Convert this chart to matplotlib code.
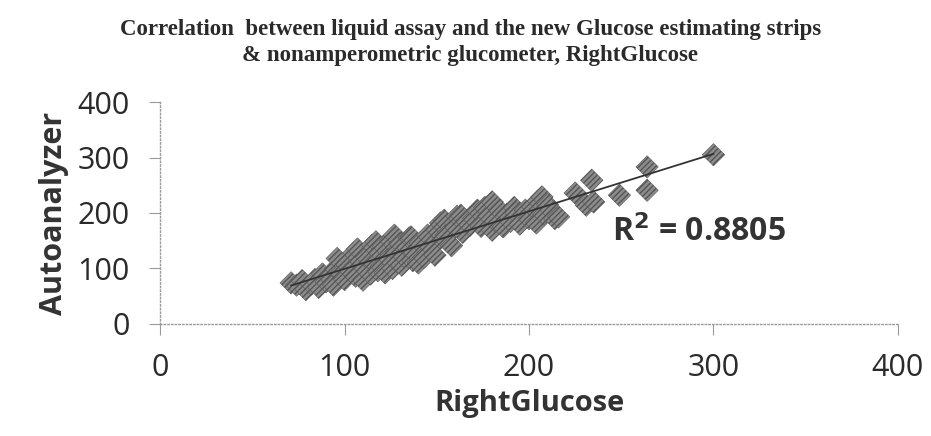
import matplotlib
matplotlib.use("Agg")
import matplotlib.pyplot as plt
import numpy as np

title = "Correlation  between liquid assay and the new Glucose estimating strips\n& nonamperometric glucometer, RightGlucose"
x_label = "RightGlucose"
y_label = "Autoanalyzer"
r2_text = "R$^{\\mathbf{2}}$ = 0.8805"
x_ticks = [0, 100, 200, 300, 400]
y_ticks = [0, 100, 200, 300, 400]

right_glucose = [71, 74, 77, 79, 82, 84, 86, 88, 90, 92, 94, 95, 96, 98, 100, 101, 103, 105, 106, 107,
                 109, 110, 111, 112, 114, 115, 116, 117, 118, 119, 120, 121, 122, 124, 125, 126, 127, 128, 129, 130,
                 131, 132, 134, 135, 136, 137, 138, 140, 141, 143, 145, 147, 149, 150, 152, 154, 155, 156, 158, 160,
                 161, 163, 164, 166, 168, 170, 172, 174, 176, 178, 180, 180, 182, 184, 186, 188, 190, 192, 193, 195,
                 198, 200, 202, 204, 205, 207, 208, 210, 212, 214, 216, 225, 231, 235, 234, 249, 264, 264, 300]
autoanalyzer = [74, 70, 78, 62, 72, 80, 66, 90, 76, 84, 70, 100, 118, 92, 80, 108, 96, 128, 86, 135,
                112, 79, 100, 120, 90, 142, 110, 148, 96, 128, 104, 140, 92, 118, 150, 100, 160, 130, 110, 145,
                106, 122, 138, 155, 157, 114, 128, 110, 146, 120, 160, 138, 124, 170, 182, 187, 160, 148, 141, 175,
                194, 196, 165, 185, 178, 190, 205, 176, 210, 195, 220, 169, 185, 205, 175, 198, 185, 210, 200, 180,
                205, 190, 211, 182, 222, 229, 198, 215, 205, 190, 193, 236, 214, 220, 259, 232, 241, 283, 305]

fig = plt.figure(figsize=(9.31, 4.36), dpi=100)
ax = fig.add_axes([0.172, 0.257, 0.7925, 0.509])

x = np.array(right_glucose, dtype=float)
y = np.array(autoanalyzer, dtype=float)

ax.scatter(x, y, marker="D", s=130, facecolor="#8c8c8c", edgecolor="#555555",
           linewidth=0.4, hatch="//////", zorder=2)

coef = np.polyfit(x, y, 1)
xl = np.array([x.min(), x.max()])
ax.plot(xl, np.polyval(coef, xl), color="#333333", lw=1.3, zorder=3)

ax.set_xlim(0, 400)
ax.set_ylim(0, 400)
ax.set_xticks(x_ticks)
ax.set_yticks(y_ticks)

tick_font = dict(family="Open Sans", size=22, color="#2a2a2a")
ax.set_xticklabels([str(v) for v in x_ticks], **tick_font)
ax.set_yticklabels([str(v) for v in y_ticks], **tick_font)

for side in ["top", "right"]:
    ax.spines[side].set_visible(False)
for side in ["left", "bottom"]:
    ax.spines[side].set_color("#9a9a9a")
    ax.spines[side].set_linestyle(":")
    ax.spines[side].set_linewidth(1.0)
ax.tick_params(axis="both", colors="#9a9a9a", length=8, width=0.8, labelcolor="#2a2a2a")
ax.tick_params(axis="x", pad=13)
ax.tick_params(axis="y", pad=14)

ax.set_xlabel(x_label, family="Open Sans", fontsize=21, fontweight="bold", color="#333333", labelpad=4)
ax.set_ylabel(y_label, family="Open Sans", fontsize=22, fontweight="bold", color="#333333", labelpad=6)

ax.text(0.612, 0.41, r2_text, transform=ax.transAxes, family="Open Sans",
        fontsize=23, fontweight="bold", color="#333333", ha="left", va="center")

fig.text(0.505, 0.903, title, ha="center", va="center", family="Liberation Serif",
         fontsize=16.5, fontweight="bold", color="#2a2a2a", linespacing=1.3)

fig.savefig("out.png", dpi=100, facecolor="white")
